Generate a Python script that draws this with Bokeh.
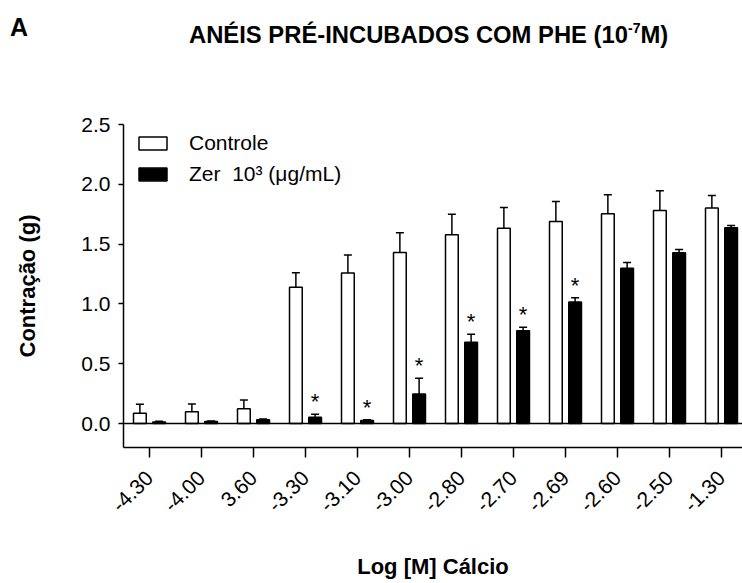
from math import pi
from bokeh.plotting import figure
from bokeh.models import (Range1d, FixedTicker, ColumnDataSource, Whisker, TeeHead,
                          Span, Legend, LegendItem, PrintfTickFormatter, Div)
from bokeh.layouts import column
from bokeh.core.properties import value
from bokeh.embed import file_html
from bokeh.resources import INLINE

# ---------------- data ----------------
categories = ["-4.30", "-4.00", "3.60", "-3.30", "-3.10", "-3.00",
              "-2.80", "-2.70", "-2.69", "-2.60", "-2.50", "-1.30"]
controle = [0.086, 0.098, 0.123, 1.140, 1.258, 1.430, 1.578, 1.633, 1.689, 1.753, 1.781, 1.803]
controle_sem = [0.075, 0.066, 0.075, 0.120, 0.152, 0.165, 0.172, 0.173, 0.167, 0.159, 0.165, 0.103]
zer = [0.014, 0.017, 0.033, 0.053, 0.025, 0.248, 0.680, 0.775, 1.017, 1.299, 1.427, 1.636]
zer_sem = [0.006, 0.005, 0.005, 0.025, 0.006, 0.131, 0.067, 0.030, 0.034, 0.047, 0.028, 0.020]
significant = [False, False, False, True, True, True, True, True, True, False, False, False]
y_ticks = [0.0, 0.5, 1.0, 1.5, 2.0, 2.5]

title_main = "ANÉIS PRÉ-INCUBADOS COM PHE (10"
title_sup = "-7"
title_end = "M)"
panel_letter = "A"
label_controle = "Controle"
label_zer = "Zer  10\u00b3 (\u03bcg/mL)"
x_label = "Log [M] Cálcio"
y_label = "Contração (g)"

FONT = "Liberation Sans"
W = 742
H_TITLE = 60
H_MAIN = 523
LEFT, TOP, BOTTOM = 123, 64, 136

idx = list(range(len(categories)))
off = 0.185
bw = 0.245

src_c = ColumnDataSource(dict(
    x=[i - off for i in idx], top=controle,
    upper=[v + e for v, e in zip(controle, controle_sem)]))
src_z = ColumnDataSource(dict(
    x=[i + off for i in idx], top=zer,
    upper=[v + e for v, e in zip(zer, zer_sem)]))
star_x = [i + off for i, s in zip(idx, significant) if s]
star_y = [v + e for v, e, s in zip(zer, zer_sem, significant) if s]
src_s = ColumnDataSource(dict(x=star_x, y=star_y, t=["*"] * len(star_x)))

# ---------------- title strip (HTML, real text) ----------------
title_html = (
    f'<div style="position:relative;width:{W}px;height:{H_TITLE}px;'
    f"font-family:'{FONT}',Arial,sans-serif;font-weight:bold;color:black;\">"
    f'<span style="position:absolute;left:10px;top:15px;font-size:25px;line-height:1;'
    f'white-space:nowrap;">{panel_letter}</span>'
    f'<span style="position:absolute;left:189px;top:23px;font-size:23.8px;line-height:1;'
    f'white-space:nowrap;">{title_main}'
    f'<span style="font-size:14px;vertical-align:10px;line-height:0;">{title_sup}</span>'
    f'{title_end}</span>'
    f'</div>'
)
header = Div(text=title_html, width=W, height=H_TITLE, margin=(0, 0, 0, 0))

# ---------------- main plot ----------------
p = figure(width=W, height=H_MAIN, x_range=Range1d(-0.5, 11.404), y_range=Range1d(-0.2, 2.5),
           toolbar_location=None, output_backend="svg",
           min_border_left=LEFT, min_border_right=0, min_border_top=TOP, min_border_bottom=BOTTOM)
p.grid.visible = False
p.outline_line_color = None
p.background_fill_color = "white"
p.border_fill_color = "white"

r_c = p.vbar(x="x", top="top", bottom=0, width=bw, source=src_c,
             fill_color="white", line_color="black", line_width=1.5)
r_z = p.vbar(x="x", top="top", bottom=0, width=bw, source=src_z,
             fill_color="black", line_color="black", line_width=1.5)

for src in (src_c, src_z):
    p.add_layout(Whisker(source=src, base="x", upper="upper", lower="top", dimension="height",
                         line_color="black", line_width=1.5,
                         upper_head=TeeHead(size=8, line_color="black", line_width=1.5),
                         lower_head=None))

p.text(x="x", y="y", text="t", source=src_s, text_align="center", text_baseline="bottom",
       text_font=value(FONT), text_font_size="22px", text_color="black")

p.add_layout(Span(location=0, dimension="width", line_color="black", line_width=1.5))

# x axis
xa = p.xaxis[0]
xa.ticker = FixedTicker(ticks=idx)
xa.major_label_overrides = {i: c for i, c in zip(idx, categories)}
xa.major_label_orientation = pi / 4
xa.major_tick_out = 10
xa.major_tick_in = 0
xa.minor_tick_line_color = None
xa.axis_line_width = 1.5
xa.major_tick_line_width = 1.5
xa.major_label_text_font = FONT
xa.major_label_text_font_size = "21px"
xa.major_label_text_color = "black"
xa.major_label_standoff = 17
xa.axis_label = x_label
xa.axis_label_text_font = FONT
xa.axis_label_text_font_style = "bold"
xa.axis_label_text_font_size = "22px"
xa.axis_label_text_color = "black"
xa.axis_label_standoff = 33

# y axis
ya = p.yaxis[0]
ya.ticker = FixedTicker(ticks=y_ticks)
ya.formatter = PrintfTickFormatter(format="%.1f")
ya.major_tick_out = 5
ya.major_tick_in = 0
ya.minor_tick_line_color = None
ya.axis_line_width = 1.5
ya.major_tick_line_width = 1.5
ya.major_label_text_font = FONT
ya.major_label_text_font_size = "21px"
ya.major_label_text_color = "black"
ya.major_label_standoff = 8
ya.axis_label = y_label
ya.axis_label_text_font = FONT
ya.axis_label_text_font_style = "bold"
ya.axis_label_text_font_size = "22px"
ya.axis_label_text_color = "black"
ya.axis_label_standoff = 38

legend = Legend(items=[LegendItem(label=label_controle, renderers=[r_c]),
                       LegendItem(label=label_zer, renderers=[r_z])],
                location=(12, 259), margin=0, padding=2, spacing=3,
                glyph_width=35, glyph_height=16, label_height=28, label_standoff=19,
                label_text_font=FONT, label_text_font_size="21px", label_text_color="black",
                background_fill_alpha=0, border_line_color=None)
p.add_layout(legend)

layout = column(header, p, spacing=0)
open("out.html", "w").write(file_html(layout, INLINE))
